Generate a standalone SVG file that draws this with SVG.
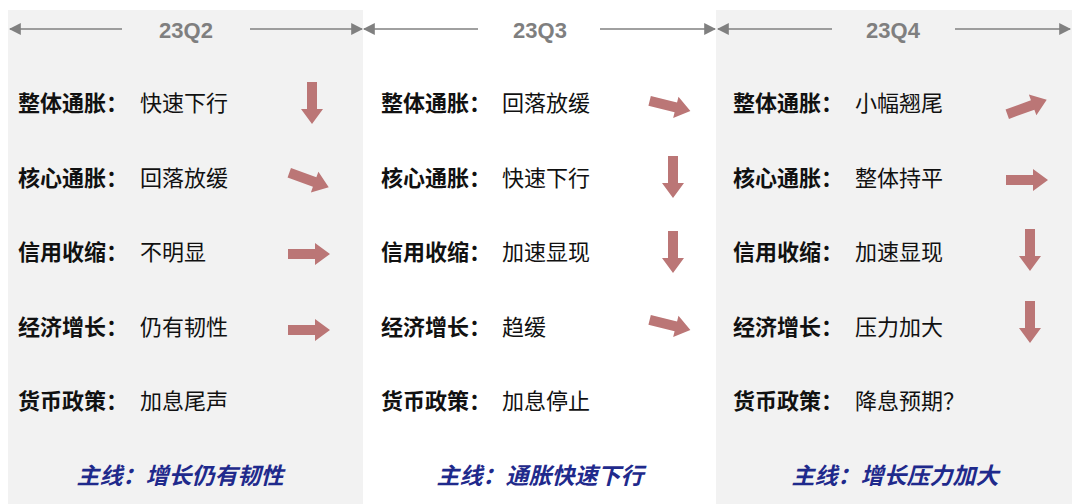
<svg xmlns="http://www.w3.org/2000/svg" width="1080" height="504" viewBox="0 0 1080 504">
<style>
.l{font-family:"Noto Sans CJK SC",sans-serif;font-size:22px;font-weight:bold;fill:#111}
.v{font-family:"Noto Sans CJK SC",sans-serif;font-size:22px;fill:#111}
.t{font-family:"Liberation Sans",Arial,sans-serif;font-size:22px;font-weight:bold;fill:#7f7f7f}
.m{font-family:"Noto Sans CJK SC",sans-serif;font-size:23px;font-weight:bold;font-style:italic;fill:#1f2a8c}
.h{stroke:#808080;stroke-width:1.5;fill:none;marker-end:url(#ah)}
</style>
<defs>
<marker id="ah" viewBox="0 0 10 10" refX="9" refY="5" markerWidth="12" markerHeight="12" orient="auto" markerUnits="userSpaceOnUse"><path d="M0,0L10,5L0,10z" fill="#808080"/></marker>
<path id="ar" d="M-21,-5H6V-11L21,0L6,11V5H-21Z" fill="#bb7676"/>
</defs>
<rect x="8" y="10" width="355" height="494" fill="#f2f2f2"/>
<rect x="716" y="10" width="356" height="494" fill="#f2f2f2"/>
<g id="connectors">
<path class="h" d="M122,29H10"/><path class="h" d="M250,29H362"/>
<path class="h" d="M478,29H364"/><path class="h" d="M600,29H715"/>
<path class="h" d="M832,29H718"/><path class="h" d="M955,29H1070"/>
</g>
<g id="q2">
<text class="t" x="186" y="38" text-anchor="middle">23Q2</text>
<text class="l" x="18" y="111">整体通胀：</text><text class="v" x="140" y="111">快速下行</text>
<text class="l" x="18" y="186">核心通胀：</text><text class="v" x="140" y="186">回落放缓</text>
<text class="l" x="18" y="260">信用收缩：</text><text class="v" x="140" y="260">不明显</text>
<text class="l" x="18" y="335">经济增长：</text><text class="v" x="140" y="335">仍有韧性</text>
<text class="l" x="18" y="409">货币政策：</text><text class="v" x="140" y="409">加息尾声</text>
<use href="#ar" transform="translate(312,103) rotate(90)"/>
<use href="#ar" transform="translate(309,180) rotate(20)"/>
<use href="#ar" transform="translate(309,254)"/>
<use href="#ar" transform="translate(309,330)"/>
<text class="m" x="180" y="484" text-anchor="middle">主线：增长仍有韧性</text>
</g>
<g id="q3">
<text class="t" x="540" y="38" text-anchor="middle">23Q3</text>
<text class="l" x="381" y="111">整体通胀：</text><text class="v" x="502" y="111">回落放缓</text>
<text class="l" x="381" y="186">核心通胀：</text><text class="v" x="502" y="186">快速下行</text>
<text class="l" x="381" y="260">信用收缩：</text><text class="v" x="502" y="260">加速显现</text>
<text class="l" x="381" y="335">经济增长：</text><text class="v" x="502" y="335">趋缓</text>
<text class="l" x="381" y="409">货币政策：</text><text class="v" x="502" y="409">加息停止</text>
<use href="#ar" transform="translate(670,106) rotate(14)"/>
<use href="#ar" transform="translate(673,177) rotate(90)"/>
<use href="#ar" transform="translate(673,252) rotate(90)"/>
<use href="#ar" transform="translate(670,325) rotate(14)"/>
<text class="m" x="540" y="484" text-anchor="middle">主线：通胀快速下行</text>
</g>
<g id="q4">
<text class="t" x="893" y="38" text-anchor="middle">23Q4</text>
<text class="l" x="733" y="111">整体通胀：</text><text class="v" x="855" y="111">小幅翘尾</text>
<text class="l" x="733" y="186">核心通胀：</text><text class="v" x="855" y="186">整体持平</text>
<text class="l" x="733" y="260">信用收缩：</text><text class="v" x="855" y="260">加速显现</text>
<text class="l" x="733" y="335">经济增长：</text><text class="v" x="855" y="335">压力加大</text>
<text class="l" x="733" y="409">货币政策：</text><text class="v" x="855" y="409">降息预期？</text>
<use href="#ar" transform="translate(1027,107) rotate(-20)"/>
<use href="#ar" transform="translate(1027,180)"/>
<use href="#ar" transform="translate(1030,250) rotate(90)"/>
<use href="#ar" transform="translate(1030,322) rotate(90)"/>
<text class="m" x="895" y="484" text-anchor="middle">主线：增长压力加大</text>
</g>
</svg>
